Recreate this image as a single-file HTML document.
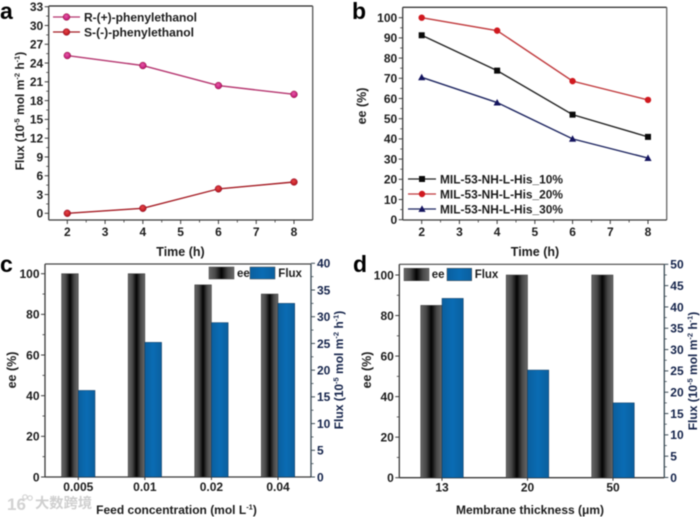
<!DOCTYPE html>
<html lang="en">
<head>
<meta charset="utf-8">
<title>Flux and ee charts</title>
<style>
html,body{margin:0;padding:0;background:#fff;}
#figure{display:block;width:700px;height:517px;filter:blur(0.45px);}
text{font-family:"Liberation Sans","Noto Sans CJK SC",sans-serif;font-weight:bold;fill:#1c1c1c;white-space:pre;}
</style>
</head>
<body>
<svg id="figure" xmlns="http://www.w3.org/2000/svg" width="700" height="517" viewBox="0 0 700 517">
<defs>
<linearGradient id="eeGrad" x1="0" x2="1" y1="0" y2="0">
<stop offset="0" stop-color="#686868"/><stop offset="0.25" stop-color="#484848"/><stop offset="0.5" stop-color="#030303"/><stop offset="0.75" stop-color="#484848"/><stop offset="1" stop-color="#686868"/>
</linearGradient>
<linearGradient id="fluxGrad" x1="0" x2="1" y1="0" y2="0">
<stop offset="0" stop-color="#0b5f9e"/><stop offset="0.5" stop-color="#0a6cb4"/><stop offset="1" stop-color="#0b5f9e"/>
</linearGradient>
<radialGradient id="pinkDot" cx="0.45" cy="0.4" r="0.6"><stop offset="0" stop-color="#e85aa8"/><stop offset="1" stop-color="#b80f6e"/></radialGradient>
<radialGradient id="redDot" cx="0.45" cy="0.4" r="0.6"><stop offset="0" stop-color="#e8454a"/><stop offset="1" stop-color="#b01218"/></radialGradient>
</defs>
<g id="watermark">
<text x="7" y="510" font-size="17" style="fill:#d2d2d2">16</text>
<circle cx="25" cy="497" r="2.2" fill="none" stroke="#d4d4d4" stroke-width="1.2"/>
<circle cx="30" cy="498" r="2.2" fill="none" stroke="#d4d4d4" stroke-width="1.2"/>
<text x="35" y="508" font-size="14.3" style="fill:#cfcfcf">大数跨境</text>
</g>
</svg>
<script>
var aTimes = [2, 4, 6, 8];
var aXTicks = [2, 3, 4, 5, 6, 7, 8];
var aYTicks = [0, 3, 6, 9, 12, 15, 18, 21, 24, 27, 30, 33];
var aRFlux = [25.2, 23.6, 20.4, 19.0];
var aSFlux = [0.0, 0.8, 3.9, 5.0];

var bTimes = [2, 4, 6, 8];
var bXTicks = [2, 3, 4, 5, 6, 7, 8];
var bYTicks = [0, 10, 20, 30, 40, 50, 60, 70, 80, 90, 100];
var bSeries10 = [91.3, 73.8, 52.0, 41.0];
var bSeries20 = [100, 93.6, 68.6, 59.3];
var bSeries30 = [70.5, 58.0, 40.0, 30.5];

var cCategories = ['0.005', '0.01', '0.02', '0.04'];
var cEE = [100, 100, 94.5, 90];
var cFlux = [16.2, 25.2, 28.9, 32.5];
var cLeftTicks = [0, 20, 40, 60, 80, 100];
var cRightTicks = [0, 5, 10, 15, 20, 25, 30, 35, 40];

var dCategories = ['13', '20', '50'];
var dEE = [85, 100, 100];
var dFlux = [42, 25.2, 17.5];
var dLeftTicks = [0, 20, 40, 60, 80, 100];
var dRightTicks = [0, 5, 10, 15, 20, 25, 30, 35, 40, 45, 50];

var svg = document.getElementById('figure');
var NS = 'http://www.w3.org/2000/svg';

function mk(tag, attrs, parent) {
  var el = document.createElementNS(NS, tag);
  for (var k in attrs) el.setAttribute(k, attrs[k]);
  (parent || svg).appendChild(el);
  return el;
}
function scale(d0, d1, p0, p1) {
  return function (v) { return p0 + (v - d0) * (p1 - p0) / (d1 - d0); };
}
function tickMark(g, x1, y1, x2, y2, color, w) {
  var el = mk('line', {x1: x1, y1: y1, x2: x2, y2: y2, stroke: color, 'stroke-width': w}, g);
  
  
}
function label(g, x, y, str, size, anchor, color) {
  var el = mk('text', {x: x, y: y, 'font-size': size, 'text-anchor': anchor}, g);
  if (color) el.style.fill = color;
  el.textContent = str;
  
  
  return el;
}
function rich(g, name, x, y, size, parts, rotate, color) {
  var el = mk('text', {x: x, y: y, 'font-size': size, 'text-anchor': 'middle'}, g);
  if (rotate) el.setAttribute('transform', 'rotate(-90 ' + x + ' ' + y + ')');
  if (color) el.style.fill = color;
  
  
  parts.forEach(function (p) {
    var t = mk('tspan', {}, el);
    t.textContent = p[0];
    if (p[1]) { t.setAttribute('font-size', size * 0.62); t.setAttribute('dy', -4.5); }
    else if (p[2]) { t.setAttribute('dy', 4.5); }
  });
}
function frame(g, L, R, T, B, topColor, rightColor) {
  var f;
  f = mk('line', {x1: L, y1: T, x2: R, y2: T, stroke: topColor, 'stroke-width': 1.2}, g);
  
  
  f = mk('line', {x1: R, y1: T, x2: R, y2: B, stroke: rightColor, 'stroke-width': 1.3}, g);
  
  
  f = mk('line', {x1: L, y1: T, x2: L, y2: B, stroke: '#3a3a3a', 'stroke-width': 1.3}, g);
  
  
  f = mk('line', {x1: L, y1: B, x2: R, y2: B, stroke: '#3a3a3a', 'stroke-width': 1.3}, g);
  
  
}
function leftAxis(g, ticks, y, L, size) {
  ticks.forEach(function (t, i) {
    tickMark(g, L - 4, y(t), L, y(t), '#3a3a3a', 1);
    label(g, L - 5.5, y(t) + size * 0.36, String(t), size, 'end');
    if (i < ticks.length - 1) {
      var m = (t + ticks[i + 1]) / 2;
      tickMark(g, L - 2.5, y(m), L, y(m), '#3a3a3a', 0.8);
    }
  });
}
function rightAxis(g, ticks, y, R, size, color) {
  ticks.forEach(function (t, i) {
    tickMark(g, R, y(t), R + 4, y(t), '#3a4a55', 1);
    label(g, R + 6, y(t) + size * 0.36, String(t), size, 'start', color);
    if (i < ticks.length - 1) {
      var m = (t + ticks[i + 1]) / 2;
      tickMark(g, R, y(m), R + 2.5, y(m), '#3a4a55', 0.8);
    }
  });
}
function bottomAxis(g, ticks, x, B, size) {
  ticks.forEach(function (t, i) {
    tickMark(g, x(t), B, x(t), B + 4, '#3a3a3a', 1);
    label(g, x(t), B + 16, String(t), size, 'middle');
    if (i < ticks.length - 1) {
      var m = (t + ticks[i + 1]) / 2;
      tickMark(g, x(m), B, x(m), B + 2.5, '#3a3a3a', 0.8);
    }
  });
}
function seriesLine(g, name, xs, ys, x, y, color) {
  var pts = xs.map(function (v, i) { return x(v) + ',' + y(ys[i]); }).join(' ');
  var el = mk('polyline', {points: pts, fill: 'none', stroke: color, 'stroke-width': 1.4}, g);
  
  
}
function marker(g, name, kind, cx, cy, fill) {
  var el;
  if (kind === 'circle') el = mk('circle', {cx: cx, cy: cy, r: 3.4, fill: fill, stroke: '#8e1030', 'stroke-width': 0.5}, g);
  if (kind === 'dot') el = mk('circle', {cx: cx, cy: cy, r: 3.2, fill: fill}, g);
  if (kind === 'square') el = mk('rect', {x: cx - 3, y: cy - 3, width: 6, height: 6, fill: fill}, g);
  if (kind === 'triangle') el = mk('polygon', {points: (cx - 3.6) + ',' + (cy + 2.9) + ' ' + (cx + 3.6) + ',' + (cy + 2.9) + ' ' + cx + ',' + (cy - 3.6), fill: fill}, g);
  
  
}
function legendRow(g, name, x1, x2, y, color, kind, fill, tx, str, w) {
  var row = mk('g', {}, g);
  
  
  var ln = mk('line', {x1: x1, y1: y, x2: x2, y2: y, stroke: color, 'stroke-width': 1.3}, row);
  
  
  marker(row, 'legend-marker', kind, (x1 + x2) / 2, y, fill);
  var t = mk('text', {x: tx, y: y + 4.3, 'font-size': 12, textLength: w, lengthAdjust: 'spacingAndGlyphs'}, row);
  t.textContent = str;
  
  
}
function bars(g, cats, eeVals, fluxVals, xc, yL, yR, B, w) {
  cats.forEach(function (c, i) {
    var e = mk('rect', {x: xc(i) - w, y: yL(eeVals[i]), width: w, height: B - yL(eeVals[i]), fill: 'url(#eeGrad)', stroke: '#333', 'stroke-width': 0.5}, g);
    
    
    var f = mk('rect', {x: xc(i), y: yR(fluxVals[i]), width: w, height: B - yR(fluxVals[i]), fill: 'url(#fluxGrad)', stroke: '#12385c', 'stroke-width': 0.5}, g);
    
    
    tickMark(g, xc(i), B, xc(i), B + 3, '#3a3a3a', 1);
    label(g, xc(i), B + 14, c, 12, 'middle');
  });
}
function swatch(g, name, x, y, w, h, fill) {
  var el = mk('rect', {x: x, y: y, width: w, height: h, fill: fill, stroke: '#444', 'stroke-width': 0.5}, g);
  
  
}
function panelLetter(str, x, y) {
  var el = mk('text', {x: x, y: y, 'font-size': 23}, svg);
  el.style.fill = '#000';
  el.textContent = str;
  
  
}

/* Panel a */
var ga = mk('g', {});


var ax = scale(2, 8, 67.3, 294);
var ay = scale(0, 33, 213.3, 6.7);
frame(ga, 48.7, 312.7, 6, 220, '#222', '#555');
leftAxis(ga, aYTicks, ay, 48.7, 12);
bottomAxis(ga, aXTicks, ax, 220, 12);
rich(ga, 'x-axis-title', 180.5, 256, 12.5, [['Time (h)']], false);
rich(ga, 'y-axis-title', 24, 111, 12, [['Flux (10'], ['-5', true], [' mol m', false, true], ['-2', true], [' h', false, true], ['-1', true], [')', false, true]], true);
seriesLine(ga, 'r-phenylethanol-line', aTimes, aRFlux, ax, ay, '#b5356f');
seriesLine(ga, 's-phenylethanol-line', aTimes, aSFlux, ax, ay, '#a51c24');
aTimes.forEach(function (t, i) {
  marker(ga, 'r-phenylethanol-point', 'circle', ax(t), ay(aRFlux[i]), 'url(#pinkDot)');
  marker(ga, 's-phenylethanol-point', 'circle', ax(t), ay(aSFlux[i]), 'url(#redDot)');
});
legendRow(ga, 'legend-entry-r', 53, 80, 17, '#b5356f', 'circle', 'url(#pinkDot)', 84, 'R-(+)-phenylethanol', 113);
legendRow(ga, 'legend-entry-s', 53, 80, 32, '#a51c24', 'circle', 'url(#redDot)', 84, 'S-(-)-phenylethanol', 110);

/* Panel b */
var gb = mk('g', {});


var bx = scale(2, 8, 421.7, 648);
var by = scale(0, 100, 219.7, 17.7);
frame(gb, 402.7, 666.7, 7.3, 220, '#111', '#666');
leftAxis(gb, bYTicks, by, 402.7, 12);
bottomAxis(gb, bXTicks, bx, 220, 12);
rich(gb, 'x-axis-title', 535, 256, 12.5, [['Time (h)']], false);
rich(gb, 'y-axis-title', 366, 106, 12.5, [['ee (%)']], true);
seriesLine(gb, 'his-10-line', bTimes, bSeries10, bx, by, '#222');
seriesLine(gb, 'his-20-line', bTimes, bSeries20, bx, by, '#c0393c');
seriesLine(gb, 'his-30-line', bTimes, bSeries30, bx, by, '#1d2560');
bTimes.forEach(function (t, i) {
  marker(gb, 'his-10-point', 'square', bx(t), by(bSeries10[i]), '#0a0a0a');
  marker(gb, 'his-20-point', 'dot', bx(t), by(bSeries20[i]), '#d0191f');
  marker(gb, 'his-30-point', 'triangle', bx(t), by(bSeries30[i]), '#14145e');
});
legendRow(gb, 'legend-entry-10', 408, 436, 179, '#222', 'square', '#0a0a0a', 440, 'MIL-53-NH-L-His_10%', 123);
legendRow(gb, 'legend-entry-20', 408, 436, 194, '#c0393c', 'dot', '#d0191f', 440, 'MIL-53-NH-L-His_20%', 123);
legendRow(gb, 'legend-entry-30', 408, 436, 209, '#1d2560', 'triangle', '#14145e', 440, 'MIL-53-NH-L-His_30%', 123);

/* Panel c */
var gc = mk('g', {});


var cx0 = scale(0, 3, 78.3, 278);
var cyL = scale(0, 100, 477, 273.7);
var cyR = scale(0, 40, 477, 263.3);
frame(gc, 45, 311, 264, 477, '#444', '#3a4a55');
bars(gc, cCategories, cEE, cFlux, cx0, cyL, cyR, 477, 16.7);
leftAxis(gc, cLeftTicks, cyL, 45, 12);
rightAxis(gc, cRightTicks, cyR, 311, 12, '#14234a');
rich(gc, 'x-axis-title', 176.5, 514, 12, [['Feed concentration (mol L'], ['-1', true], [')', false, true]], false);
rich(gc, 'y-axis-title', 16, 370, 12.5, [['ee (%)']], true);
rich(gc, 'right-y-axis-title', 343, 370, 12, [['Flux (10'], ['-5', true], [' mol m', false, true], ['-2', true], [' h', false, true], ['-1', true], [')', false, true]], true, '#14234a');
swatch(gc, 'legend-ee-swatch', 209, 267, 25, 12, 'url(#eeGrad)');
label(gc, 237, 277, 'ee', 11.5, 'start');
swatch(gc, 'legend-flux-swatch', 250, 267, 25, 12, 'url(#fluxGrad)');
label(gc, 278.3, 277, 'Flux', 11.5, 'start');

/* Panel d */
var gd = mk('g', {});


var dx0 = scale(0, 2, 442, 613);
var dyL = scale(0, 100, 477.7, 275);
var dyR = scale(0, 50, 477.5, 264.3);
frame(gd, 399.3, 664.3, 264.3, 477.7, '#444', '#3a4a55');
bars(gd, dCategories, dEE, dFlux, dx0, dyL, dyR, 477.7, 21.3);
leftAxis(gd, dLeftTicks, dyL, 399.3, 12);
rightAxis(gd, dRightTicks, dyR, 664.3, 12, '#14234a');
rich(gd, 'x-axis-title', 530, 514, 12, [['Membrane thickness (μm)']], false);
rich(gd, 'y-axis-title', 371, 370, 12.5, [['ee (%)']], true);
rich(gd, 'right-y-axis-title', 697, 371, 12, [['Flux (10'], ['-5', true], [' mol m', false, true], ['-2', true], [' h', false, true], ['-1', true], [')', false, true]], true, '#14234a');
swatch(gd, 'legend-ee-swatch', 404, 268.3, 25, 12.4, 'url(#eeGrad)');
label(gd, 431.7, 278, 'ee', 11.5, 'start');
swatch(gd, 'legend-flux-swatch', 447, 268.3, 24.7, 12.4, 'url(#fluxGrad)');
label(gd, 474.7, 278, 'Flux', 11.5, 'start');

panelLetter('a', 0, 19);
panelLetter('b', 352, 19);
panelLetter('c', 0, 272);
panelLetter('d', 353, 272);
</script>
</body>
</html>
